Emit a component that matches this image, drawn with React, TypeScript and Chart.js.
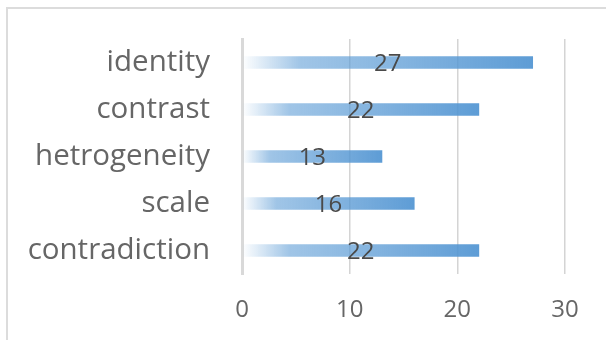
import React, { useEffect, useRef } from "react";
import { Chart, registerables } from "chart.js";

Chart.register(...registerables);

// Categories listed top to bottom
const categories: string[] = ["identity", "contrast", "hetrogeneity", "scale", "contradiction"];
const counts: number[] = [27, 22, 13, 16, 22];
const xTicks: number[] = [0, 10, 20, 30];

const FONT = "'Open Sans', 'Noto Sans', sans-serif";
const TEXT_GRAY = "#666666";
const LABEL_DARK = "#4a4a4a";
const GRID = "#d4d4d4";

// Writes each bar's value at the middle of the bar
const barValueLabels = {
  id: "barValueLabels",
  afterDatasetsDraw(chart: any) {
    const { ctx } = chart;
    const meta = chart.getDatasetMeta(0);
    const data = chart.data.datasets[0].data as number[];
    ctx.save();
    ctx.font = `24px ${FONT}`;
    ctx.fillStyle = LABEL_DARK;
    ctx.textAlign = "center";
    ctx.textBaseline = "middle";
    meta.data.forEach((bar: any, i: number) => {
      const cx = (bar.base + bar.x) / 2;
      ctx.fillText(String(data[i]), cx, bar.y + 1.5);
    });
    ctx.restore();
  },
};

export default function App() {
  const canvasRef = useRef<HTMLCanvasElement | null>(null);

  useEffect(() => {
    const canvas = canvasRef.current;
    if (!canvas) return;

    const chart = new Chart(canvas, {
      type: "bar",
      data: {
        labels: categories,
        datasets: [
          {
            data: counts,
            barThickness: 12,
            borderWidth: 0,
            backgroundColor: (c: any) => {
              const x = c.chart.scales?.x;
              const solid = "rgba(80,148,210,0.92)";
              if (!x || c.raw == null) return solid;
              const x0 = x.getPixelForValue(0);
              const x1 = x.getPixelForValue(c.raw);
              if (!isFinite(x0) || !isFinite(x1) || x1 <= x0) return solid;
              const g = c.chart.ctx.createLinearGradient(x0, 0, x1, 0);
              g.addColorStop(0, "rgba(91,155,213,0)");
              g.addColorStop(0.2, "rgba(91,155,213,0.58)");
              g.addColorStop(1, solid);
              return g;
            },
          },
        ],
      },
      options: {
        indexAxis: "y",
        responsive: false,
        animation: false,
        layout: { padding: { top: 39, right: 41, left: 0, bottom: 0 } },
        plugins: {
          legend: { display: false },
          tooltip: { enabled: false },
        },
        scales: {
          x: {
            min: 0,
            max: 30,
            afterFit: (s: any) => {
              s.height = 66;
              s.paddingLeft = 0;
              s.paddingRight = 0;
            },
            afterBuildTicks: (s: any) => {
              s.ticks = xTicks.map((v) => ({ value: v }));
            },
            ticks: {
              font: { family: FONT, size: 24 },
              color: TEXT_GRAY,
              padding: 22,
            },
            grid: { color: GRID, lineWidth: 1.5, drawTicks: false },
            border: { display: false },
          },
          y: {
            afterFit: (s: any) => {
              s.width = 242;
              s.paddingTop = 0;
              s.paddingBottom = 0;
            },
            ticks: {
              font: { family: FONT, size: 29.5 },
              color: TEXT_GRAY,
              padding: 32,
            },
            grid: { display: false, drawTicks: false },
            border: { display: true, color: "#d9d9d9", width: 3 },
          },
        },
      },
      plugins: [barValueLabels],
    } as any);

    return () => chart.destroy();
  }, []);

  return (
    <div style={{ position: "absolute", left: 0, top: 0, width: 606, height: 340, overflow: "hidden", background: "#fff" }}>
      <div
        style={{
          position: "absolute",
          left: 6,
          top: 7,
          width: 640,
          height: 380,
          border: "2px solid #dcdcdc",
          boxSizing: "border-box",
        }}
      />
      <canvas ref={canvasRef} width={606} height={340} style={{ position: "absolute", left: 0, top: 0 }} />
    </div>
  );
}
